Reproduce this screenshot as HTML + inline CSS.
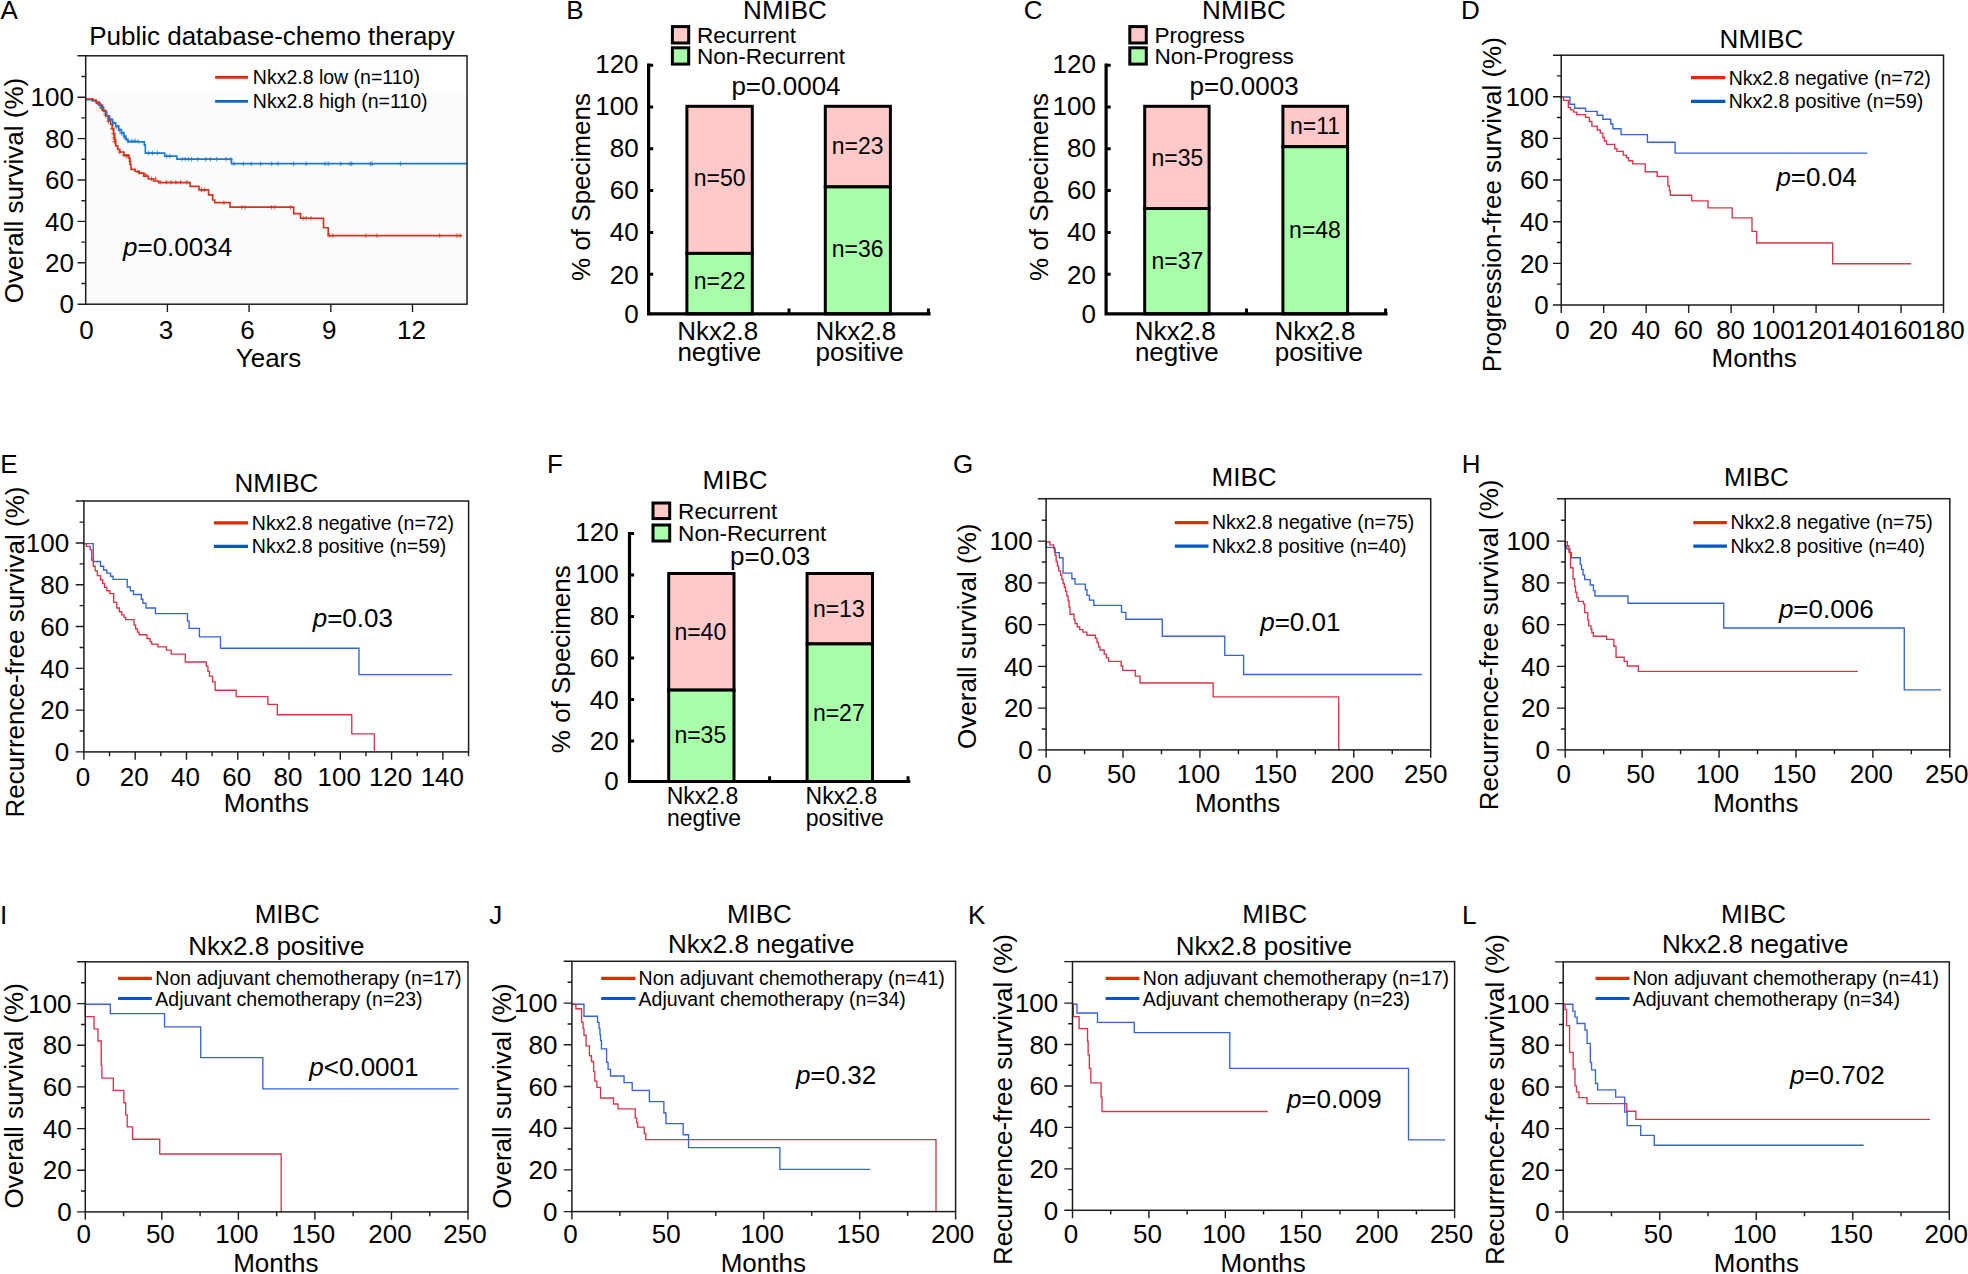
<!DOCTYPE html>
<html><head><meta charset="utf-8"><title>Figure</title>
<style>
html,body{margin:0;padding:0;background:#fff;}
svg{display:block;font-family:'Liberation Sans', sans-serif;}
</style></head><body>
<svg width="1968" height="1274" viewBox="0 0 1968 1274">
<rect width="1968" height="1274" fill="#fff"/>
<rect x="85.70" y="92.20" width="381.30" height="212.00" fill="#fbfcfe"/>
<path d="M85.51 99.59L92.24 99.59L92.24 101.02L96.33 101.02L96.33 103.47L100.41 103.47L100.41 107.14L103.47 107.14L103.47 111.22L106.53 111.22L106.53 115.71L109.59 115.71L109.59 119.39L112.65 119.39L112.65 122.86L115.71 122.86L115.71 125.92L118.78 125.92L118.78 129.59L121.43 129.59L121.43 132.65L123.88 132.65L123.88 136.12L125.92 136.12L125.92 139.39L127.96 139.39L127.96 141.84L139.18 141.84L139.18 141.84L144.29 141.84L144.29 144.90L145.31 144.90L145.31 153.06L164.69 153.06L164.69 156.12L176.94 156.12L176.94 159.18L231.43 159.18L231.43 163.67L467.00 163.67" fill="none" stroke="#1f7acb" stroke-width="1.65" stroke-linejoin="miter"/>
<path d="M85.51 98.98L93.27 98.98L93.27 100.00L96.33 100.00L96.33 102.04L99.39 102.04L99.39 105.10L102.45 105.10L102.45 110.20L105.51 110.20L105.51 115.71L108.16 115.71L108.16 120.41L110.61 120.41L110.61 124.49L112.24 124.49L112.24 128.57L113.67 128.57L113.67 133.67L114.69 133.67L114.69 139.80L115.71 139.80L115.71 145.92L117.76 145.92L117.76 149.39L119.80 149.39L119.80 152.04L123.88 152.04L123.88 155.10L128.98 155.10L128.98 158.16L130.00 158.16L130.00 164.29L131.02 164.29L131.02 169.39L135.10 169.39L135.10 171.43L139.18 171.43L139.18 173.06L143.67 173.06L143.67 176.12L148.37 176.12L148.37 178.98L153.47 178.98L153.47 181.02L158.57 181.02L158.57 182.65L190.20 182.65L190.20 186.33L198.98 186.33L198.98 189.80L208.57 189.80L208.57 194.90L212.65 194.90L212.65 200.00L214.69 200.00L214.69 202.65L230.00 202.65L230.00 207.14L293.66 207.14L293.66 213.57L300.57 213.57L300.57 218.28L323.49 218.28L323.49 227.70L328.20 227.70L328.20 235.55L461.68 235.55" fill="none" stroke="#d8301a" stroke-width="1.65" stroke-linejoin="miter"/>
<path d="M233.98 166.10 v-4.6 M231.78 163.80 h4.4M243.40 166.10 v-4.6 M241.20 163.80 h4.4M251.26 166.10 v-4.6 M249.06 163.80 h4.4M260.68 166.10 v-4.6 M258.48 163.80 h4.4M271.67 166.10 v-4.6 M269.47 163.80 h4.4M277.95 166.10 v-4.6 M275.75 163.80 h4.4M293.66 166.10 v-4.6 M291.46 163.80 h4.4M306.22 166.10 v-4.6 M304.02 163.80 h4.4M325.06 166.10 v-4.6 M322.86 163.80 h4.4M328.20 166.10 v-4.6 M326.00 163.80 h4.4M340.77 166.10 v-4.6 M338.57 163.80 h4.4M350.19 166.10 v-4.6 M347.99 163.80 h4.4M351.76 166.10 v-4.6 M349.56 163.80 h4.4M370.60 166.10 v-4.6 M368.40 163.80 h4.4M372.17 166.10 v-4.6 M369.97 163.80 h4.4M400.44 166.10 v-4.6 M398.24 163.80 h4.4M182.16 161.50 v-4.6 M179.96 159.20 h4.4M185.30 161.50 v-4.6 M183.10 159.20 h4.4M188.44 161.50 v-4.6 M186.24 159.20 h4.4M191.58 161.50 v-4.6 M189.38 159.20 h4.4M197.86 161.50 v-4.6 M195.66 159.20 h4.4M205.72 161.50 v-4.6 M203.52 159.20 h4.4M210.43 161.50 v-4.6 M208.23 159.20 h4.4M216.71 161.50 v-4.6 M214.51 159.20 h4.4M226.13 161.50 v-4.6 M223.93 159.20 h4.4M230.84 161.50 v-4.6 M228.64 159.20 h4.4M99.39 106.38 v-4.6 M97.19 104.08 h4.4M102.45 110.46 v-4.6 M100.25 108.16 h4.4M105.51 115.57 v-4.6 M103.31 113.27 h4.4M108.57 120.67 v-4.6 M106.37 118.37 h4.4M110.61 122.71 v-4.6 M108.41 120.41 h4.4M113.67 125.77 v-4.6 M111.47 123.47 h4.4M116.73 129.44 v-4.6 M114.53 127.14 h4.4M119.80 132.91 v-4.6 M117.60 130.61 h4.4M121.84 135.97 v-4.6 M119.64 133.67 h4.4M124.90 140.06 v-4.6 M122.70 137.76 h4.4M127.96 143.12 v-4.6 M125.76 140.82 h4.4M132.04 143.12 v-4.6 M129.84 140.82 h4.4M135.10 143.12 v-4.6 M132.90 140.82 h4.4M138.16 143.73 v-4.6 M135.96 141.43 h4.4M148.37 155.36 v-4.6 M146.17 153.06 h4.4M152.45 155.36 v-4.6 M150.25 153.06 h4.4M157.55 155.36 v-4.6 M155.35 153.06 h4.4M166.73 158.42 v-4.6 M164.53 156.12 h4.4M169.80 158.42 v-4.6 M167.60 156.12 h4.4" fill="none" stroke="#1f7acb" stroke-width="0.8"/>
<path d="M160.18 184.50 v-4.6 M157.98 182.20 h4.4M166.46 184.50 v-4.6 M164.26 182.20 h4.4M171.17 184.50 v-4.6 M168.97 182.20 h4.4M175.88 184.50 v-4.6 M173.68 182.20 h4.4M180.59 184.50 v-4.6 M178.39 182.20 h4.4M186.87 184.50 v-4.6 M184.67 182.20 h4.4M241.83 209.60 v-4.6 M239.63 207.30 h4.4M244.97 209.60 v-4.6 M242.77 207.30 h4.4M271.67 209.60 v-4.6 M269.47 207.30 h4.4M274.81 209.60 v-4.6 M272.61 207.30 h4.4M290.52 209.60 v-4.6 M288.32 207.30 h4.4M303.08 220.60 v-4.6 M300.88 218.30 h4.4M306.22 220.60 v-4.6 M304.02 218.30 h4.4M310.93 220.60 v-4.6 M308.73 218.30 h4.4M329.77 237.90 v-4.6 M327.57 235.60 h4.4M332.91 237.90 v-4.6 M330.71 235.60 h4.4M365.89 237.90 v-4.6 M363.69 235.60 h4.4M376.88 237.90 v-4.6 M374.68 235.60 h4.4M439.70 237.90 v-4.6 M437.50 235.60 h4.4M456.97 237.90 v-4.6 M454.77 235.60 h4.4M460.11 237.90 v-4.6 M457.91 235.60 h4.4M98.37 105.77 v-4.6 M96.17 103.47 h4.4M101.43 110.46 v-4.6 M99.23 108.16 h4.4M105.51 117.61 v-4.6 M103.31 115.31 h4.4M108.57 123.73 v-4.6 M106.37 121.43 h4.4M112.24 130.87 v-4.6 M110.04 128.57 h4.4M113.27 135.97 v-4.6 M111.07 133.67 h4.4M113.67 140.06 v-4.6 M111.47 137.76 h4.4M114.29 144.14 v-4.6 M112.09 141.84 h4.4M119.80 154.34 v-4.6 M117.60 152.04 h4.4M123.88 157.40 v-4.6 M121.68 155.10 h4.4M126.94 158.83 v-4.6 M124.74 156.53 h4.4M130.00 163.52 v-4.6 M127.80 161.22 h4.4M139.18 174.75 v-4.6 M136.98 172.45 h4.4M145.31 176.79 v-4.6 M143.11 174.49 h4.4M151.43 181.28 v-4.6 M149.23 178.98 h4.4M155.51 181.28 v-4.6 M153.31 178.98 h4.4M201.43 192.10 v-4.6 M199.23 189.80 h4.4M204.49 192.10 v-4.6 M202.29 189.80 h4.4M223.88 204.95 v-4.6 M221.68 202.65 h4.4" fill="none" stroke="#d2361c" stroke-width="0.8"/>
<rect x="85.70" y="55.80" width="381.30" height="248.40" fill="none" stroke="#1c1c1c" stroke-width="1.5"/>
<path d="M85.70 304.20 h-8.20M85.70 283.50 h-4.30M85.70 262.80 h-8.20M85.70 242.10 h-4.30M85.70 221.40 h-8.20M85.70 200.70 h-4.30M85.70 180.00 h-8.20M85.70 159.30 h-4.30M85.70 138.60 h-8.20M85.70 117.90 h-4.30M85.70 97.20 h-8.20M85.70 76.50 h-4.30M85.70 55.80 h-8.20M167.40 304.20 v7.90M249.10 304.20 v7.90M330.80 304.20 v7.90M412.50 304.20 v7.90" fill="none" stroke="#1c1c1c" stroke-width="1.4"/>
<text x="73.90" y="313.40" font-size="26.0" text-anchor="end" fill="#000">0</text>
<text x="73.90" y="272.00" font-size="26.0" text-anchor="end" fill="#000">20</text>
<text x="73.90" y="230.60" font-size="26.0" text-anchor="end" fill="#000">40</text>
<text x="73.90" y="189.20" font-size="26.0" text-anchor="end" fill="#000">60</text>
<text x="73.90" y="147.80" font-size="26.0" text-anchor="end" fill="#000">80</text>
<text x="73.90" y="106.40" font-size="26.0" text-anchor="end" fill="#000">100</text>
<text x="86.50" y="339.00" font-size="26.0" text-anchor="middle" fill="#000">0</text>
<text x="165.90" y="339.00" font-size="26.0" text-anchor="middle" fill="#000">3</text>
<text x="247.60" y="339.00" font-size="26.0" text-anchor="middle" fill="#000">6</text>
<text x="329.30" y="339.00" font-size="26.0" text-anchor="middle" fill="#000">9</text>
<text x="411.50" y="339.00" font-size="26.0" text-anchor="middle" fill="#000">12</text>
<text x="0.50" y="18.90" font-size="26.0" text-anchor="start" fill="#000">A</text>
<text x="272.00" y="45.20" font-size="26.0" text-anchor="middle" fill="#000">Public database-chemo therapy</text>
<text x="268.50" y="366.90" font-size="26.0" text-anchor="middle" fill="#000">Years</text>
<text transform="translate(23.40 190.50) rotate(-90)" font-size="26.0" text-anchor="middle">Overall survival (%)</text>
<path d="M215.10 77.30 H248.10" stroke="#cc3311" stroke-width="2.7"/>
<text x="252.80" y="84.40" font-size="19.5" text-anchor="start" fill="#000">Nkx2.8 low (n=110)</text>
<path d="M215.10 101.30 H248.10" stroke="#1166cc" stroke-width="2.7"/>
<text x="252.80" y="108.00" font-size="19.5" text-anchor="start" fill="#000">Nkx2.8 high (n=110)</text>
<text x="123.00" y="255.80" font-size="26.0"><tspan font-style="italic">p</tspan>=0.0034</text>
<path d="M1561.10 96.99L1569.89 96.99L1569.89 104.21L1574.60 104.21L1574.60 108.29L1585.59 108.29L1585.59 111.43L1597.21 111.43L1597.21 115.20L1602.86 115.20L1602.86 119.28L1610.71 119.28L1610.71 123.99L1612.90 123.99L1612.90 128.70L1621.07 128.70L1621.07 134.67L1647.44 134.67L1647.44 142.20L1675.07 142.20L1675.07 153.19L1867.22 153.19" fill="none" stroke="#3364d9" stroke-width="1.35" stroke-linejoin="miter"/>
<path d="M1561.10 96.99L1563.61 96.99L1563.61 100.44L1568.32 100.44L1568.32 107.35L1570.52 107.35L1570.52 109.86L1573.66 109.86L1573.66 112.06L1576.80 112.06L1576.80 114.57L1585.59 114.57L1585.59 117.40L1589.36 117.40L1589.36 121.48L1591.87 121.48L1591.87 126.19L1597.21 126.19L1597.21 129.96L1600.35 129.96L1600.35 133.10L1602.86 133.10L1602.86 137.49L1604.43 137.49L1604.43 140.95L1606.62 140.95L1606.62 144.40L1614.79 144.40L1614.79 148.79L1616.99 148.79L1616.99 151.31L1623.27 151.31L1623.27 155.07L1626.41 155.07L1626.41 157.59L1628.60 157.59L1628.60 160.73L1632.68 160.73L1632.68 163.87L1645.24 163.87L1645.24 171.71L1657.17 171.71L1657.17 176.42L1667.85 176.42L1667.85 185.84L1669.42 185.84L1669.42 190.55L1670.36 190.55L1670.36 195.26L1691.71 195.26L1691.71 200.91L1708.04 200.91L1708.04 207.82L1732.21 207.82L1732.21 217.87L1751.99 217.87L1751.99 231.37L1756.70 231.37L1756.70 242.99L1832.68 242.99L1832.68 263.71L1911.18 263.71" fill="none" stroke="#d9344a" stroke-width="1.35" stroke-linejoin="miter"/>
<rect x="1561.20" y="55.20" width="382.30" height="249.80" fill="none" stroke="#1c1c1c" stroke-width="1.5"/>
<path d="M1561.20 305.00 h-8.20M1561.20 284.17 h-4.30M1561.20 263.34 h-8.20M1561.20 242.51 h-4.30M1561.20 221.68 h-8.20M1561.20 200.85 h-4.30M1561.20 180.02 h-8.20M1561.20 159.19 h-4.30M1561.20 138.36 h-8.20M1561.20 117.53 h-4.30M1561.20 96.70 h-8.20M1561.20 75.87 h-4.30M1561.20 55.20 h-8.20M1561.20 305.00 v7.90M1603.68 305.00 v7.90M1646.16 305.00 v7.90M1688.64 305.00 v7.90M1731.12 305.00 v7.90M1773.60 305.00 v7.90M1816.08 305.00 v7.90M1858.56 305.00 v7.90M1901.04 305.00 v7.90M1943.52 305.00 v7.90" fill="none" stroke="#1c1c1c" stroke-width="1.4"/>
<text x="1548.80" y="314.20" font-size="26.0" text-anchor="end" fill="#000">0</text>
<text x="1548.80" y="272.54" font-size="26.0" text-anchor="end" fill="#000">20</text>
<text x="1548.80" y="230.88" font-size="26.0" text-anchor="end" fill="#000">40</text>
<text x="1548.80" y="189.22" font-size="26.0" text-anchor="end" fill="#000">60</text>
<text x="1548.80" y="147.56" font-size="26.0" text-anchor="end" fill="#000">80</text>
<text x="1548.80" y="105.90" font-size="26.0" text-anchor="end" fill="#000">100</text>
<text x="1562.40" y="339.00" font-size="26.0" text-anchor="middle" fill="#000">0</text>
<text x="1603.18" y="339.00" font-size="26.0" text-anchor="middle" fill="#000">20</text>
<text x="1645.66" y="339.00" font-size="26.0" text-anchor="middle" fill="#000">40</text>
<text x="1688.14" y="339.00" font-size="26.0" text-anchor="middle" fill="#000">60</text>
<text x="1730.62" y="339.00" font-size="26.0" text-anchor="middle" fill="#000">80</text>
<text x="1773.10" y="339.00" font-size="26.0" text-anchor="middle" fill="#000">100</text>
<text x="1815.58" y="339.00" font-size="26.0" text-anchor="middle" fill="#000">120</text>
<text x="1858.06" y="339.00" font-size="26.0" text-anchor="middle" fill="#000">140</text>
<text x="1900.54" y="339.00" font-size="26.0" text-anchor="middle" fill="#000">160</text>
<text x="1943.02" y="339.00" font-size="26.0" text-anchor="middle" fill="#000">180</text>
<text x="1461.00" y="18.90" font-size="26.0" text-anchor="start" fill="#000">D</text>
<text x="1761.50" y="47.70" font-size="26.0" text-anchor="middle" fill="#000">NMIBC</text>
<text x="1754.20" y="366.80" font-size="26.0" text-anchor="middle" fill="#000">Months</text>
<text transform="translate(1500.80 204.70) rotate(-90)" font-size="26.0" text-anchor="middle">Progression-free survival (%)</text>
<path d="M1691.00 77.70 H1725.40" stroke="#e02a00" stroke-width="3.2"/>
<text x="1728.70" y="84.50" font-size="19.5" text-anchor="start" fill="#000">Nkx2.8 negative (n=72)</text>
<path d="M1691.00 101.30 H1725.40" stroke="#0058c8" stroke-width="3.2"/>
<text x="1728.70" y="108.30" font-size="19.5" text-anchor="start" fill="#000">Nkx2.8 positive (n=59)</text>
<text x="1776.40" y="186.00" font-size="26.0"><tspan font-style="italic">p</tspan>=0.04</text>
<path d="M83.86 543.62L93.28 543.62L93.28 561.52L100.50 561.52L100.50 566.23L103.64 566.23L103.64 570.00L106.78 570.00L106.78 573.14L110.55 573.14L110.55 576.28L113.07 576.28L113.07 579.42L127.20 579.42L127.20 586.96L130.34 586.96L130.34 590.73L133.48 590.73L133.48 594.49L141.33 594.49L141.33 599.21L142.90 599.21L142.90 603.29L146.04 603.29L146.04 608.00L155.46 608.00L155.46 613.65L187.50 613.65L187.50 621.19L189.07 621.19L189.07 628.41L199.43 628.41L199.43 636.89L220.48 636.89L220.48 648.20L358.98 648.20L358.98 674.58L452.26 674.58" fill="none" stroke="#3364d9" stroke-width="1.35" stroke-linejoin="miter"/>
<path d="M83.86 543.62L86.37 543.62L86.37 546.44L90.14 546.44L90.14 549.90L91.71 549.90L91.71 559.95L93.28 559.95L93.28 566.23L95.16 566.23L95.16 570.94L97.36 570.94L97.36 575.65L100.50 575.65L100.50 579.73L102.70 579.73L102.70 583.50L104.59 583.50L104.59 587.27L106.78 587.27L106.78 590.73L109.92 590.73L109.92 593.55L113.69 593.55L113.69 602.35L116.83 602.35L116.83 608.00L119.35 608.00L119.35 611.77L121.86 611.77L121.86 614.91L124.06 614.91L124.06 617.42L125.63 617.42L125.63 619.62L134.11 619.62L134.11 625.27L135.68 625.27L135.68 629.04L137.56 629.04L137.56 632.18L139.13 632.18L139.13 634.70L146.98 634.70L146.98 638.46L150.13 638.46L150.13 641.61L151.70 641.61L151.70 644.12L157.98 644.12L157.98 646.94L166.46 646.94L166.46 650.08L171.17 650.08L171.17 654.17L185.30 654.17L185.30 662.02L206.34 662.02L206.34 666.10L207.91 666.10L207.91 671.44L209.48 671.44L209.48 676.15L212.63 676.15L212.63 681.81L215.14 681.81L215.14 690.29L236.18 690.29L236.18 696.57L267.90 696.57L267.90 704.42L277.32 704.42L277.32 714.78L351.76 714.78L351.76 733.94L374.37 733.94L374.37 752.47" fill="none" stroke="#d9344a" stroke-width="1.35" stroke-linejoin="miter"/>
<rect x="83.90" y="501.00" width="384.70" height="250.90" fill="none" stroke="#1c1c1c" stroke-width="1.5"/>
<path d="M83.90 751.90 h-8.20M83.90 731.01 h-4.30M83.90 710.12 h-8.20M83.90 689.23 h-4.30M83.90 668.34 h-8.20M83.90 647.45 h-4.30M83.90 626.56 h-8.20M83.90 605.67 h-4.30M83.90 584.78 h-8.20M83.90 563.89 h-4.30M83.90 543.00 h-8.20M83.90 522.11 h-4.30M83.90 501.00 h-8.20M83.90 751.90 v7.90M135.18 751.90 v7.90M186.46 751.90 v7.90M237.74 751.90 v7.90M289.02 751.90 v7.90M340.30 751.90 v7.90M391.58 751.90 v7.90M442.86 751.90 v7.90M109.54 751.90 v4.30M160.82 751.90 v4.30M212.10 751.90 v4.30M263.38 751.90 v4.30M314.66 751.90 v4.30M365.94 751.90 v4.30M417.22 751.90 v4.30M468.50 751.90 v4.30" fill="none" stroke="#1c1c1c" stroke-width="1.4"/>
<text x="69.20" y="761.10" font-size="26.0" text-anchor="end" fill="#000">0</text>
<text x="69.20" y="719.32" font-size="26.0" text-anchor="end" fill="#000">20</text>
<text x="69.20" y="677.54" font-size="26.0" text-anchor="end" fill="#000">40</text>
<text x="69.20" y="635.76" font-size="26.0" text-anchor="end" fill="#000">60</text>
<text x="69.20" y="593.98" font-size="26.0" text-anchor="end" fill="#000">80</text>
<text x="69.20" y="552.20" font-size="26.0" text-anchor="end" fill="#000">100</text>
<text x="82.90" y="786.00" font-size="26.0" text-anchor="middle" fill="#000">0</text>
<text x="134.18" y="786.00" font-size="26.0" text-anchor="middle" fill="#000">20</text>
<text x="185.46" y="786.00" font-size="26.0" text-anchor="middle" fill="#000">40</text>
<text x="236.74" y="786.00" font-size="26.0" text-anchor="middle" fill="#000">60</text>
<text x="288.02" y="786.00" font-size="26.0" text-anchor="middle" fill="#000">80</text>
<text x="339.30" y="786.00" font-size="26.0" text-anchor="middle" fill="#000">100</text>
<text x="390.58" y="786.00" font-size="26.0" text-anchor="middle" fill="#000">120</text>
<text x="442.36" y="786.00" font-size="26.0" text-anchor="middle" fill="#000">140</text>
<text x="0.30" y="473.10" font-size="26.0" text-anchor="start" fill="#000">E</text>
<text x="276.40" y="491.80" font-size="26.0" text-anchor="middle" fill="#000">NMIBC</text>
<text x="266.30" y="811.80" font-size="26.0" text-anchor="middle" fill="#000">Months</text>
<text transform="translate(23.90 652.00) rotate(-90)" font-size="26.0" text-anchor="middle">Recurrence-free survival (%)</text>
<path d="M213.90 522.90 H248.10" stroke="#e02a00" stroke-width="3.2"/>
<text x="251.80" y="529.50" font-size="19.5" text-anchor="start" fill="#000">Nkx2.8 negative (n=72)</text>
<path d="M213.90 546.40 H248.10" stroke="#0058c8" stroke-width="3.2"/>
<text x="251.80" y="553.00" font-size="19.5" text-anchor="start" fill="#000">Nkx2.8 positive (n=59)</text>
<text x="312.70" y="626.70" font-size="26.0"><tspan font-style="italic">p</tspan>=0.03</text>
<path d="M1046.12 541.70L1046.12 547.35L1054.60 547.35L1054.60 552.69L1059.31 552.69L1059.31 557.71L1063.08 557.71L1063.08 573.10L1071.87 573.10L1071.87 578.75L1075.01 578.75L1075.01 584.09L1085.37 584.09L1085.37 589.74L1086.94 589.74L1086.94 595.39L1089.45 595.39L1089.45 600.10L1093.85 600.10L1093.85 605.44L1121.48 605.44L1121.48 612.34L1125.87 612.34L1125.87 619.25L1162.29 619.25L1162.29 636.20L1224.77 636.20L1224.77 655.36L1243.61 655.36L1243.61 674.51L1421.95 674.51" fill="none" stroke="#3364d9" stroke-width="1.35" stroke-linejoin="miter"/>
<path d="M1046.12 541.70L1049.89 541.70L1049.89 544.84L1053.66 544.84L1053.66 548.92L1055.23 548.92L1055.23 555.20L1056.17 555.20L1056.17 561.48L1057.43 561.48L1057.43 566.19L1058.68 566.19L1058.68 570.90L1060.57 570.90L1060.57 574.98L1061.82 574.98L1061.82 579.38L1063.08 579.38L1063.08 583.46L1064.33 583.46L1064.33 587.22L1065.59 587.22L1065.59 591.31L1066.84 591.31L1066.84 596.02L1068.10 596.02L1068.10 600.73L1069.04 600.73L1069.04 607.01L1069.98 607.01L1069.98 614.23L1074.07 614.23L1074.07 619.56L1075.01 619.56L1075.01 623.65L1077.21 623.65L1077.21 626.79L1079.72 626.79L1079.72 629.61L1082.86 629.61L1082.86 632.12L1086.94 632.12L1086.94 635.26L1095.42 635.26L1095.42 638.40L1096.99 638.40L1096.99 642.48L1098.56 642.48L1098.56 646.88L1100.13 646.88L1100.13 650.02L1104.21 650.02L1104.21 654.10L1106.41 654.10L1106.41 657.87L1108.60 657.87L1108.60 661.32L1121.16 661.32L1121.16 666.03L1122.73 666.03L1122.73 670.43L1135.29 670.43L1135.29 676.08L1140.00 676.08L1140.00 682.99L1213.16 682.99L1213.16 696.80L1338.74 696.80L1338.74 750.49" fill="none" stroke="#d9344a" stroke-width="1.35" stroke-linejoin="miter"/>
<rect x="1046.10" y="498.70" width="384.60" height="251.20" fill="none" stroke="#1c1c1c" stroke-width="1.5"/>
<path d="M1046.10 749.90 h-8.20M1046.10 729.02 h-4.30M1046.10 708.14 h-8.20M1046.10 687.26 h-4.30M1046.10 666.38 h-8.20M1046.10 645.50 h-4.30M1046.10 624.62 h-8.20M1046.10 603.74 h-4.30M1046.10 582.86 h-8.20M1046.10 561.98 h-4.30M1046.10 541.10 h-8.20M1046.10 520.22 h-4.30M1046.10 498.70 h-8.20M1046.10 749.90 v7.90M1123.02 749.90 v7.90M1199.94 749.90 v7.90M1276.86 749.90 v7.90M1353.78 749.90 v7.90M1430.70 749.90 v7.90M1084.56 749.90 v4.30M1161.48 749.90 v4.30M1238.40 749.90 v4.30M1315.32 749.90 v4.30M1392.24 749.90 v4.30" fill="none" stroke="#1c1c1c" stroke-width="1.4"/>
<text x="1032.80" y="759.10" font-size="26.0" text-anchor="end" fill="#000">0</text>
<text x="1032.80" y="717.34" font-size="26.0" text-anchor="end" fill="#000">20</text>
<text x="1032.80" y="675.58" font-size="26.0" text-anchor="end" fill="#000">40</text>
<text x="1032.80" y="633.82" font-size="26.0" text-anchor="end" fill="#000">60</text>
<text x="1032.80" y="592.06" font-size="26.0" text-anchor="end" fill="#000">80</text>
<text x="1032.80" y="550.30" font-size="26.0" text-anchor="end" fill="#000">100</text>
<text x="1044.60" y="782.70" font-size="26.0" text-anchor="middle" fill="#000">0</text>
<text x="1121.52" y="782.70" font-size="26.0" text-anchor="middle" fill="#000">50</text>
<text x="1198.44" y="782.70" font-size="26.0" text-anchor="middle" fill="#000">100</text>
<text x="1275.36" y="782.70" font-size="26.0" text-anchor="middle" fill="#000">150</text>
<text x="1352.28" y="782.70" font-size="26.0" text-anchor="middle" fill="#000">200</text>
<text x="1425.70" y="782.70" font-size="26.0" text-anchor="middle" fill="#000">250</text>
<text x="952.90" y="473.20" font-size="26.0" text-anchor="start" fill="#000">G</text>
<text x="1244.00" y="485.50" font-size="26.0" text-anchor="middle" fill="#000">MIBC</text>
<text x="1237.60" y="811.70" font-size="26.0" text-anchor="middle" fill="#000">Months</text>
<text transform="translate(976.00 636.20) rotate(-90)" font-size="26.0" text-anchor="middle">Overall survival (%)</text>
<path d="M1174.80 522.60 H1208.50" stroke="#e02a00" stroke-width="3.2"/>
<text x="1212.00" y="529.30" font-size="19.5" text-anchor="start" fill="#000">Nkx2.8 negative (n=75)</text>
<path d="M1174.80 546.10 H1208.50" stroke="#0058c8" stroke-width="3.2"/>
<text x="1212.00" y="552.80" font-size="19.5" text-anchor="start" fill="#000">Nkx2.8 positive (n=40)</text>
<text x="1260.20" y="630.60" font-size="26.0"><tspan font-style="italic">p</tspan>=0.01</text>
<path d="M1565.18 541.70L1565.18 545.78L1566.75 545.78L1566.75 548.92L1569.89 548.92L1569.89 552.69L1571.46 552.69L1571.46 557.71L1580.25 557.71L1580.25 564.62L1581.51 564.62L1581.51 569.33L1583.08 569.33L1583.08 574.98L1584.65 574.98L1584.65 579.69L1590.30 579.69L1590.30 585.03L1593.44 585.03L1593.44 590.68L1595.01 590.68L1595.01 596.02L1627.97 596.02L1627.97 603.24L1723.74 603.24L1723.74 628.04L1904.27 628.04L1904.27 689.89L1941.00 689.89" fill="none" stroke="#3364d9" stroke-width="1.35" stroke-linejoin="miter"/>
<path d="M1565.18 541.70L1567.38 541.70L1567.38 545.78L1568.95 545.78L1568.95 552.06L1570.52 552.06L1570.52 567.76L1573.03 567.76L1573.03 578.75L1574.60 578.75L1574.60 586.60L1575.54 586.60L1575.54 592.25L1576.80 592.25L1576.80 597.59L1578.37 597.59L1578.37 601.35L1583.39 601.35L1583.39 603.87L1584.65 603.87L1584.65 612.66L1587.79 612.66L1587.79 620.19L1588.73 620.19L1588.73 625.84L1590.93 625.84L1590.93 628.98L1591.87 628.98L1591.87 632.75L1593.44 632.75L1593.44 636.20L1606.62 636.20L1606.62 639.34L1613.85 639.34L1613.85 646.25L1616.04 646.25L1616.04 657.24L1624.21 657.24L1624.21 661.32L1627.35 661.32L1627.35 666.03L1638.34 666.03L1638.34 671.37L1857.80 671.37" fill="none" stroke="#d9344a" stroke-width="1.35" stroke-linejoin="miter"/>
<rect x="1565.20" y="498.70" width="384.60" height="251.20" fill="none" stroke="#1c1c1c" stroke-width="1.5"/>
<path d="M1565.20 749.90 h-8.20M1565.20 729.02 h-4.30M1565.20 708.14 h-8.20M1565.20 687.26 h-4.30M1565.20 666.38 h-8.20M1565.20 645.50 h-4.30M1565.20 624.62 h-8.20M1565.20 603.74 h-4.30M1565.20 582.86 h-8.20M1565.20 561.98 h-4.30M1565.20 541.10 h-8.20M1565.20 520.22 h-4.30M1565.20 498.70 h-8.20M1565.20 749.90 v7.90M1642.12 749.90 v7.90M1719.04 749.90 v7.90M1795.96 749.90 v7.90M1872.88 749.90 v7.90M1949.80 749.90 v7.90M1603.66 749.90 v4.30M1680.58 749.90 v4.30M1757.50 749.90 v4.30M1834.42 749.90 v4.30M1911.34 749.90 v4.30" fill="none" stroke="#1c1c1c" stroke-width="1.4"/>
<text x="1550.00" y="759.10" font-size="26.0" text-anchor="end" fill="#000">0</text>
<text x="1550.00" y="717.34" font-size="26.0" text-anchor="end" fill="#000">20</text>
<text x="1550.00" y="675.58" font-size="26.0" text-anchor="end" fill="#000">40</text>
<text x="1550.00" y="633.82" font-size="26.0" text-anchor="end" fill="#000">60</text>
<text x="1550.00" y="592.06" font-size="26.0" text-anchor="end" fill="#000">80</text>
<text x="1550.00" y="550.30" font-size="26.0" text-anchor="end" fill="#000">100</text>
<text x="1563.70" y="782.70" font-size="26.0" text-anchor="middle" fill="#000">0</text>
<text x="1640.62" y="782.70" font-size="26.0" text-anchor="middle" fill="#000">50</text>
<text x="1717.54" y="782.70" font-size="26.0" text-anchor="middle" fill="#000">100</text>
<text x="1794.46" y="782.70" font-size="26.0" text-anchor="middle" fill="#000">150</text>
<text x="1871.38" y="782.70" font-size="26.0" text-anchor="middle" fill="#000">200</text>
<text x="1946.80" y="782.70" font-size="26.0" text-anchor="middle" fill="#000">250</text>
<text x="1461.80" y="473.20" font-size="26.0" text-anchor="start" fill="#000">H</text>
<text x="1756.40" y="485.50" font-size="26.0" text-anchor="middle" fill="#000">MIBC</text>
<text x="1755.80" y="811.70" font-size="26.0" text-anchor="middle" fill="#000">Months</text>
<text transform="translate(1497.70 644.90) rotate(-90)" font-size="26.0" text-anchor="middle">Recurrence-free survival (%)</text>
<path d="M1693.30 522.60 H1726.90" stroke="#e02a00" stroke-width="3.2"/>
<text x="1730.50" y="529.30" font-size="19.5" text-anchor="start" fill="#000">Nkx2.8 negative (n=75)</text>
<path d="M1693.30 546.10 H1726.90" stroke="#0058c8" stroke-width="3.2"/>
<text x="1730.50" y="552.80" font-size="19.5" text-anchor="start" fill="#000">Nkx2.8 positive (n=40)</text>
<text x="1778.90" y="617.80" font-size="26.0"><tspan font-style="italic">p</tspan>=0.006</text>
<path d="M85.29 1004.22L110.31 1004.22L110.31 1013.57L164.56 1013.57L164.56 1026.83L200.72 1026.83L200.72 1057.57L262.81 1057.57L262.81 1088.91L458.71 1088.91" fill="none" stroke="#3364d9" stroke-width="1.35" stroke-linejoin="miter"/>
<path d="M85.29 1004.22L85.29 1016.58L94.03 1016.58L94.03 1028.94L97.95 1028.94L97.95 1040.99L101.27 1040.99L101.27 1065.40L101.87 1065.40L101.87 1078.06L113.32 1078.06L113.32 1090.42L123.87 1090.42L123.87 1102.78L125.68 1102.78L125.68 1114.83L127.19 1114.83L127.19 1126.89L132.61 1126.89L132.61 1139.24L159.73 1139.24L159.73 1154.01L281.19 1154.01L281.19 1212.18" fill="none" stroke="#d9344a" stroke-width="1.35" stroke-linejoin="miter"/>
<rect x="85.30" y="961.80" width="382.70" height="250.10" fill="none" stroke="#1c1c1c" stroke-width="1.5"/>
<path d="M85.30 1211.90 h-8.20M85.30 1191.07 h-4.30M85.30 1170.24 h-8.20M85.30 1149.41 h-4.30M85.30 1128.58 h-8.20M85.30 1107.75 h-4.30M85.30 1086.92 h-8.20M85.30 1066.09 h-4.30M85.30 1045.26 h-8.20M85.30 1024.43 h-4.30M85.30 1003.60 h-8.20M85.30 982.77 h-4.30M85.30 961.80 h-8.20M85.30 1211.90 v7.90M161.84 1211.90 v7.90M238.38 1211.90 v7.90M314.92 1211.90 v7.90M391.46 1211.90 v7.90M468.00 1211.90 v7.90M123.57 1211.90 v4.30M200.11 1211.90 v4.30M276.65 1211.90 v4.30M353.19 1211.90 v4.30M429.73 1211.90 v4.30" fill="none" stroke="#1c1c1c" stroke-width="1.4"/>
<text x="71.60" y="1221.10" font-size="26.0" text-anchor="end" fill="#000">0</text>
<text x="71.60" y="1179.44" font-size="26.0" text-anchor="end" fill="#000">20</text>
<text x="71.60" y="1137.78" font-size="26.0" text-anchor="end" fill="#000">40</text>
<text x="71.60" y="1096.12" font-size="26.0" text-anchor="end" fill="#000">60</text>
<text x="71.60" y="1054.46" font-size="26.0" text-anchor="end" fill="#000">80</text>
<text x="71.60" y="1012.80" font-size="26.0" text-anchor="end" fill="#000">100</text>
<text x="83.80" y="1243.30" font-size="26.0" text-anchor="middle" fill="#000">0</text>
<text x="160.34" y="1243.30" font-size="26.0" text-anchor="middle" fill="#000">50</text>
<text x="236.88" y="1243.30" font-size="26.0" text-anchor="middle" fill="#000">100</text>
<text x="313.42" y="1243.30" font-size="26.0" text-anchor="middle" fill="#000">150</text>
<text x="389.96" y="1243.30" font-size="26.0" text-anchor="middle" fill="#000">200</text>
<text x="465.00" y="1243.30" font-size="26.0" text-anchor="middle" fill="#000">250</text>
<text x="0.00" y="924.00" font-size="26.0" text-anchor="start" fill="#000">I</text>
<text x="287.20" y="923.40" font-size="26.0" text-anchor="middle" fill="#000">MIBC</text>
<text x="276.40" y="955.10" font-size="26.0" text-anchor="middle" fill="#000">Nkx2.8 positive</text>
<text x="275.80" y="1272.10" font-size="26.0" text-anchor="middle" fill="#000">Months</text>
<text transform="translate(22.80 1095.80) rotate(-90)" font-size="26.0" text-anchor="middle">Overall survival (%)</text>
<path d="M118.10 978.30 H151.90" stroke="#e02a00" stroke-width="3.2"/>
<text x="155.30" y="985.30" font-size="19.5" text-anchor="start" fill="#000">Non adjuvant chemotherapy (n=17)</text>
<path d="M118.10 998.50 H151.90" stroke="#0058c8" stroke-width="3.2"/>
<text x="155.30" y="1005.50" font-size="19.5" text-anchor="start" fill="#000">Adjuvant chemotherapy (n=23)</text>
<text x="309.30" y="1076.00" font-size="26.0"><tspan font-style="italic">p</tspan>&lt;0.0001</text>
<path d="M571.92 1004.22L583.98 1004.22L583.98 1016.28L597.54 1016.28L597.54 1022.31L599.05 1022.31L599.05 1028.63L599.95 1028.63L599.95 1034.66L600.55 1034.66L600.55 1040.69L601.46 1040.69L601.46 1048.83L606.58 1048.83L606.58 1062.39L608.09 1062.39L608.09 1069.32L610.50 1069.32L610.50 1075.95L624.06 1075.95L624.06 1082.58L632.20 1082.58L632.20 1090.42L649.38 1090.42L649.38 1101.57L663.85 1101.57L663.85 1113.02L665.96 1113.02L665.96 1123.57L683.13 1123.57L683.13 1134.72L688.56 1134.72L688.56 1147.68L779.88 1147.68L779.88 1169.38L870.30 1169.38" fill="none" stroke="#3364d9" stroke-width="1.35" stroke-linejoin="miter"/>
<path d="M571.92 1004.22L575.84 1004.22L575.84 1008.74L581.57 1008.74L581.57 1022.31L583.07 1022.31L583.07 1028.63L583.98 1028.63L583.98 1035.27L586.09 1035.27L586.09 1045.81L589.40 1045.81L589.40 1055.76L591.51 1055.76L591.51 1061.49L593.62 1061.49L593.62 1071.43L594.83 1071.43L594.83 1081.08L596.94 1081.08L596.94 1087.41L600.55 1087.41L600.55 1097.95L613.51 1097.95L613.51 1103.98L618.03 1103.98L618.03 1108.80L635.21 1108.80L635.21 1118.15L636.72 1118.15L636.72 1122.67L637.63 1122.67L637.63 1127.19L644.26 1127.19L644.26 1133.52L645.76 1133.52L645.76 1139.55L936.00 1139.55L936.00 1211.58" fill="none" stroke="#d9344a" stroke-width="1.35" stroke-linejoin="miter"/>
<rect x="571.90" y="961.30" width="383.70" height="250.30" fill="none" stroke="#1c1c1c" stroke-width="1.5"/>
<path d="M571.90 1211.60 h-8.20M571.90 1190.75 h-4.30M571.90 1169.90 h-8.20M571.90 1149.05 h-4.30M571.90 1128.20 h-8.20M571.90 1107.35 h-4.30M571.90 1086.50 h-8.20M571.90 1065.65 h-4.30M571.90 1044.80 h-8.20M571.90 1023.95 h-4.30M571.90 1003.10 h-8.20M571.90 982.25 h-4.30M571.90 961.30 h-8.20M571.90 1211.60 v7.90M667.83 1211.60 v7.90M763.76 1211.60 v7.90M859.69 1211.60 v7.90M955.62 1211.60 v7.90M619.87 1211.60 v4.30M715.79 1211.60 v4.30M811.73 1211.60 v4.30M907.65 1211.60 v4.30" fill="none" stroke="#1c1c1c" stroke-width="1.4"/>
<text x="557.50" y="1220.80" font-size="26.0" text-anchor="end" fill="#000">0</text>
<text x="557.50" y="1179.10" font-size="26.0" text-anchor="end" fill="#000">20</text>
<text x="557.50" y="1137.40" font-size="26.0" text-anchor="end" fill="#000">40</text>
<text x="557.50" y="1095.70" font-size="26.0" text-anchor="end" fill="#000">60</text>
<text x="557.50" y="1054.00" font-size="26.0" text-anchor="end" fill="#000">80</text>
<text x="557.50" y="1012.30" font-size="26.0" text-anchor="end" fill="#000">100</text>
<text x="570.40" y="1243.30" font-size="26.0" text-anchor="middle" fill="#000">0</text>
<text x="666.33" y="1243.30" font-size="26.0" text-anchor="middle" fill="#000">50</text>
<text x="762.26" y="1243.30" font-size="26.0" text-anchor="middle" fill="#000">100</text>
<text x="858.19" y="1243.30" font-size="26.0" text-anchor="middle" fill="#000">150</text>
<text x="952.62" y="1243.30" font-size="26.0" text-anchor="middle" fill="#000">200</text>
<text x="489.20" y="924.00" font-size="26.0" text-anchor="start" fill="#000">J</text>
<text x="759.40" y="923.40" font-size="26.0" text-anchor="middle" fill="#000">MIBC</text>
<text x="761.30" y="953.00" font-size="26.0" text-anchor="middle" fill="#000">Nkx2.8 negative</text>
<text x="763.30" y="1272.10" font-size="26.0" text-anchor="middle" fill="#000">Months</text>
<text transform="translate(510.60 1096.10) rotate(-90)" font-size="26.0" text-anchor="middle">Overall survival (%)</text>
<path d="M601.20 978.30 H635.50" stroke="#e02a00" stroke-width="3.2"/>
<text x="638.60" y="985.30" font-size="19.5" text-anchor="start" fill="#000">Non adjuvant chemotherapy (n=41)</text>
<path d="M601.20 998.50 H635.50" stroke="#0058c8" stroke-width="3.2"/>
<text x="638.60" y="1005.50" font-size="19.5" text-anchor="start" fill="#000">Adjuvant chemotherapy (n=34)</text>
<text x="795.90" y="1083.90" font-size="26.0"><tspan font-style="italic">p</tspan>=0.32</text>
<path d="M1072.47 1004.22L1076.99 1004.22L1076.99 1012.96L1097.49 1012.96L1097.49 1022.31L1134.26 1022.31L1134.26 1032.55L1229.80 1032.55L1229.80 1068.42L1408.52 1068.42L1408.52 1139.85L1445.29 1139.85" fill="none" stroke="#3364d9" stroke-width="1.35" stroke-linejoin="miter"/>
<path d="M1072.47 1004.22L1073.38 1004.22L1073.38 1016.58L1079.10 1016.58L1079.10 1028.63L1087.54 1028.63L1087.54 1041.29L1088.14 1041.29L1088.14 1054.86L1089.35 1054.86L1089.35 1068.42L1090.86 1068.42L1090.86 1082.88L1101.10 1082.88L1101.10 1097.05L1102.01 1097.05L1102.01 1111.52L1267.77 1111.52" fill="none" stroke="#d9344a" stroke-width="1.35" stroke-linejoin="miter"/>
<rect x="1072.50" y="961.60" width="382.10" height="248.70" fill="none" stroke="#1c1c1c" stroke-width="1.5"/>
<path d="M1072.50 1210.30 h-8.20M1072.50 1189.58 h-4.30M1072.50 1168.86 h-8.20M1072.50 1148.14 h-4.30M1072.50 1127.42 h-8.20M1072.50 1106.70 h-4.30M1072.50 1085.98 h-8.20M1072.50 1065.26 h-4.30M1072.50 1044.54 h-8.20M1072.50 1023.82 h-4.30M1072.50 1003.10 h-8.20M1072.50 982.38 h-4.30M1072.50 961.60 h-8.20M1072.50 1210.30 v7.90M1148.92 1210.30 v7.90M1225.34 1210.30 v7.90M1301.76 1210.30 v7.90M1378.18 1210.30 v7.90M1454.60 1210.30 v7.90M1110.71 1210.30 v4.30M1187.13 1210.30 v4.30M1263.55 1210.30 v4.30M1339.97 1210.30 v4.30M1416.39 1210.30 v4.30" fill="none" stroke="#1c1c1c" stroke-width="1.4"/>
<text x="1058.30" y="1219.50" font-size="26.0" text-anchor="end" fill="#000">0</text>
<text x="1058.30" y="1178.06" font-size="26.0" text-anchor="end" fill="#000">20</text>
<text x="1058.30" y="1136.62" font-size="26.0" text-anchor="end" fill="#000">40</text>
<text x="1058.30" y="1095.18" font-size="26.0" text-anchor="end" fill="#000">60</text>
<text x="1058.30" y="1053.74" font-size="26.0" text-anchor="end" fill="#000">80</text>
<text x="1058.30" y="1012.30" font-size="26.0" text-anchor="end" fill="#000">100</text>
<text x="1071.00" y="1243.30" font-size="26.0" text-anchor="middle" fill="#000">0</text>
<text x="1147.42" y="1243.30" font-size="26.0" text-anchor="middle" fill="#000">50</text>
<text x="1223.84" y="1243.30" font-size="26.0" text-anchor="middle" fill="#000">100</text>
<text x="1300.26" y="1243.30" font-size="26.0" text-anchor="middle" fill="#000">150</text>
<text x="1376.68" y="1243.30" font-size="26.0" text-anchor="middle" fill="#000">200</text>
<text x="1451.60" y="1243.30" font-size="26.0" text-anchor="middle" fill="#000">250</text>
<text x="968.00" y="924.00" font-size="26.0" text-anchor="start" fill="#000">K</text>
<text x="1274.70" y="923.40" font-size="26.0" text-anchor="middle" fill="#000">MIBC</text>
<text x="1263.80" y="955.10" font-size="26.0" text-anchor="middle" fill="#000">Nkx2.8 positive</text>
<text x="1263.20" y="1272.10" font-size="26.0" text-anchor="middle" fill="#000">Months</text>
<text transform="translate(1012.20 1099.50) rotate(-90)" font-size="26.0" text-anchor="middle">Recurrence-free survival (%)</text>
<path d="M1105.60 978.30 H1139.40" stroke="#e02a00" stroke-width="3.2"/>
<text x="1142.80" y="985.30" font-size="19.5" text-anchor="start" fill="#000">Non adjuvant chemotherapy (n=17)</text>
<path d="M1105.60 998.50 H1139.40" stroke="#0058c8" stroke-width="3.2"/>
<text x="1142.80" y="1005.50" font-size="19.5" text-anchor="start" fill="#000">Adjuvant chemotherapy (n=23)</text>
<text x="1286.90" y="1107.60" font-size="26.0"><tspan font-style="italic">p</tspan>=0.009</text>
<path d="M1563.24 1004.22L1572.88 1004.22L1572.88 1011.15L1574.99 1011.15L1574.99 1017.18L1577.10 1017.18L1577.10 1023.51L1584.94 1023.51L1584.94 1030.14L1587.05 1030.14L1587.05 1043.40L1590.36 1043.40L1590.36 1062.39L1591.57 1062.39L1591.57 1069.92L1595.49 1069.92L1595.49 1083.49L1597.60 1083.49L1597.60 1089.82L1615.68 1089.82L1615.68 1097.05L1624.72 1097.05L1624.72 1112.12L1627.13 1112.12L1627.13 1125.68L1640.69 1125.68L1640.69 1135.33L1654.26 1135.33L1654.26 1145.27L1863.72 1145.27" fill="none" stroke="#3364d9" stroke-width="1.35" stroke-linejoin="miter"/>
<path d="M1563.24 1004.22L1565.05 1004.22L1565.05 1009.65L1566.55 1009.65L1566.55 1025.62L1569.57 1025.62L1569.57 1052.44L1573.18 1052.44L1573.18 1069.02L1574.99 1069.02L1574.99 1085.90L1576.50 1085.90L1576.50 1091.93L1578.91 1091.93L1578.91 1097.65L1587.05 1097.65L1587.05 1103.68L1626.83 1103.68L1626.83 1111.21L1635.87 1111.21L1635.87 1119.35L1930.03 1119.35" fill="none" stroke="#d9344a" stroke-width="1.35" stroke-linejoin="miter"/>
<rect x="1563.20" y="961.90" width="386.10" height="250.10" fill="none" stroke="#1c1c1c" stroke-width="1.5"/>
<path d="M1563.20 1212.00 h-8.20M1563.20 1191.16 h-4.30M1563.20 1170.32 h-8.20M1563.20 1149.48 h-4.30M1563.20 1128.64 h-8.20M1563.20 1107.80 h-4.30M1563.20 1086.96 h-8.20M1563.20 1066.12 h-4.30M1563.20 1045.28 h-8.20M1563.20 1024.44 h-4.30M1563.20 1003.60 h-8.20M1563.20 982.76 h-4.30M1563.20 961.90 h-8.20M1563.20 1212.00 v7.90M1659.73 1212.00 v7.90M1756.26 1212.00 v7.90M1852.79 1212.00 v7.90M1949.32 1212.00 v7.90M1611.47 1212.00 v4.30M1708.00 1212.00 v4.30M1804.53 1212.00 v4.30M1901.06 1212.00 v4.30" fill="none" stroke="#1c1c1c" stroke-width="1.4"/>
<text x="1549.60" y="1221.20" font-size="26.0" text-anchor="end" fill="#000">0</text>
<text x="1549.60" y="1179.52" font-size="26.0" text-anchor="end" fill="#000">20</text>
<text x="1549.60" y="1137.84" font-size="26.0" text-anchor="end" fill="#000">40</text>
<text x="1549.60" y="1096.16" font-size="26.0" text-anchor="end" fill="#000">60</text>
<text x="1549.60" y="1054.48" font-size="26.0" text-anchor="end" fill="#000">80</text>
<text x="1549.60" y="1012.80" font-size="26.0" text-anchor="end" fill="#000">100</text>
<text x="1561.70" y="1243.30" font-size="26.0" text-anchor="middle" fill="#000">0</text>
<text x="1658.23" y="1243.30" font-size="26.0" text-anchor="middle" fill="#000">50</text>
<text x="1754.76" y="1243.30" font-size="26.0" text-anchor="middle" fill="#000">100</text>
<text x="1851.29" y="1243.30" font-size="26.0" text-anchor="middle" fill="#000">150</text>
<text x="1946.32" y="1243.30" font-size="26.0" text-anchor="middle" fill="#000">200</text>
<text x="1462.00" y="924.00" font-size="26.0" text-anchor="start" fill="#000">L</text>
<text x="1753.60" y="923.40" font-size="26.0" text-anchor="middle" fill="#000">MIBC</text>
<text x="1755.20" y="953.00" font-size="26.0" text-anchor="middle" fill="#000">Nkx2.8 negative</text>
<text x="1756.40" y="1272.10" font-size="26.0" text-anchor="middle" fill="#000">Months</text>
<text transform="translate(1504.20 1099.50) rotate(-90)" font-size="26.0" text-anchor="middle">Recurrence-free survival (%)</text>
<path d="M1595.50 978.30 H1629.50" stroke="#e02a00" stroke-width="3.2"/>
<text x="1632.70" y="985.30" font-size="19.5" text-anchor="start" fill="#000">Non adjuvant chemotherapy (n=41)</text>
<path d="M1595.50 998.50 H1629.50" stroke="#0058c8" stroke-width="3.2"/>
<text x="1632.70" y="1005.50" font-size="19.5" text-anchor="start" fill="#000">Adjuvant chemotherapy (n=34)</text>
<text x="1789.90" y="1083.90" font-size="26.0"><tspan font-style="italic">p</tspan>=0.702</text>
<rect x="686.90" y="106.30" width="65.40" height="147.10" fill="#ffc9c9" stroke="#000" stroke-width="3"/>
<rect x="686.90" y="253.40" width="65.40" height="60.40" fill="#a9ffa9" stroke="#000" stroke-width="3"/>
<rect x="825.30" y="106.30" width="65.10" height="80.60" fill="#ffc9c9" stroke="#000" stroke-width="3"/>
<rect x="825.30" y="186.90" width="65.10" height="126.90" fill="#a9ffa9" stroke="#000" stroke-width="3"/>
<path d="M648.60 63.60 V313.80 H930.60" fill="none" stroke="#000" stroke-width="3.2" stroke-linejoin="miter"/>
<path d="M648.60 274.20 h4.6M648.60 232.40 h4.6M648.60 190.60 h4.6M648.60 148.80 h4.6M648.60 107.00 h4.6M648.60 65.20 h4.6M789.00 313.80 v-5.2M928.40 313.80 v-5.2" fill="none" stroke="#000" stroke-width="3"/>
<text x="638.60" y="323.10" font-size="26.0" text-anchor="end" fill="#000">0</text>
<text x="638.60" y="283.50" font-size="26.0" text-anchor="end" fill="#000">20</text>
<text x="638.60" y="241.40" font-size="26.0" text-anchor="end" fill="#000">40</text>
<text x="638.60" y="199.30" font-size="26.0" text-anchor="end" fill="#000">60</text>
<text x="638.60" y="157.20" font-size="26.0" text-anchor="end" fill="#000">80</text>
<text x="638.60" y="115.10" font-size="26.0" text-anchor="end" fill="#000">100</text>
<text x="638.60" y="73.00" font-size="26.0" text-anchor="end" fill="#000">120</text>
<text x="566.30" y="18.90" font-size="26.0" text-anchor="start" fill="#000">B</text>
<text x="785.00" y="18.60" font-size="26.0" text-anchor="middle" fill="#000">NMIBC</text>
<rect x="672.40" y="26.60" width="16.30" height="16.40" fill="#ffc9c9" stroke="#000" stroke-width="3"/>
<text x="696.90" y="42.70" font-size="22.6" text-anchor="start" fill="#000">Recurrent</text>
<rect x="672.40" y="47.80" width="16.30" height="16.30" fill="#a9ffa9" stroke="#000" stroke-width="3"/>
<text x="696.90" y="63.70" font-size="22.6" text-anchor="start" fill="#000">Non-Recurrent</text>
<text x="786.00" y="95.20" font-size="26.0" text-anchor="middle" fill="#000">p=0.0004</text>
<text x="719.60" y="185.70" font-size="23" text-anchor="middle" fill="#000">n=50</text>
<text x="719.60" y="288.70" font-size="23" text-anchor="middle" fill="#000">n=22</text>
<text x="857.70" y="153.70" font-size="23" text-anchor="middle" fill="#000">n=23</text>
<text x="857.70" y="256.70" font-size="23" text-anchor="middle" fill="#000">n=36</text>
<text transform="translate(589.50 187.00) rotate(-90)" font-size="26.0" text-anchor="middle">% of Specimens</text>
<text x="677.20" y="340.00" font-size="26.0" text-anchor="start" fill="#000">Nkx2.8</text>
<text x="677.40" y="361.00" font-size="26.0" text-anchor="start" fill="#000">negtive</text>
<text x="815.40" y="340.00" font-size="26.0" text-anchor="start" fill="#000">Nkx2.8</text>
<text x="815.60" y="361.00" font-size="26.0" text-anchor="start" fill="#000">positive</text>
<rect x="1144.70" y="106.30" width="64.40" height="102.20" fill="#ffc9c9" stroke="#000" stroke-width="3"/>
<rect x="1144.70" y="208.50" width="64.40" height="105.30" fill="#a9ffa9" stroke="#000" stroke-width="3"/>
<rect x="1282.90" y="106.30" width="64.70" height="40.40" fill="#ffc9c9" stroke="#000" stroke-width="3"/>
<rect x="1282.90" y="146.70" width="64.70" height="167.10" fill="#a9ffa9" stroke="#000" stroke-width="3"/>
<path d="M1106.10 63.60 V313.80 H1387.50" fill="none" stroke="#000" stroke-width="3.2" stroke-linejoin="miter"/>
<path d="M1106.10 274.20 h4.6M1106.10 232.40 h4.6M1106.10 190.60 h4.6M1106.10 148.80 h4.6M1106.10 107.00 h4.6M1106.10 65.20 h4.6M1246.50 313.80 v-5.2M1385.60 313.80 v-5.2" fill="none" stroke="#000" stroke-width="3"/>
<text x="1096.00" y="323.10" font-size="26.0" text-anchor="end" fill="#000">0</text>
<text x="1096.00" y="283.50" font-size="26.0" text-anchor="end" fill="#000">20</text>
<text x="1096.00" y="241.40" font-size="26.0" text-anchor="end" fill="#000">40</text>
<text x="1096.00" y="199.30" font-size="26.0" text-anchor="end" fill="#000">60</text>
<text x="1096.00" y="157.20" font-size="26.0" text-anchor="end" fill="#000">80</text>
<text x="1096.00" y="115.10" font-size="26.0" text-anchor="end" fill="#000">100</text>
<text x="1096.00" y="73.00" font-size="26.0" text-anchor="end" fill="#000">120</text>
<text x="1023.80" y="18.90" font-size="26.0" text-anchor="start" fill="#000">C</text>
<text x="1244.00" y="18.60" font-size="26.0" text-anchor="middle" fill="#000">NMIBC</text>
<rect x="1129.80" y="26.60" width="16.50" height="16.40" fill="#ffc9c9" stroke="#000" stroke-width="3"/>
<text x="1154.40" y="42.70" font-size="22.6" text-anchor="start" fill="#000">Progress</text>
<rect x="1129.80" y="47.80" width="16.50" height="16.30" fill="#a9ffa9" stroke="#000" stroke-width="3"/>
<text x="1154.40" y="63.70" font-size="22.6" text-anchor="start" fill="#000">Non-Progress</text>
<text x="1244.10" y="95.20" font-size="26.0" text-anchor="middle" fill="#000">p=0.0003</text>
<text x="1177.40" y="165.50" font-size="23" text-anchor="middle" fill="#000">n=35</text>
<text x="1177.40" y="268.50" font-size="23" text-anchor="middle" fill="#000">n=37</text>
<text x="1315.00" y="134.10" font-size="23" text-anchor="middle" fill="#000">n=11</text>
<text x="1315.00" y="237.70" font-size="23" text-anchor="middle" fill="#000">n=48</text>
<text transform="translate(1047.70 187.00) rotate(-90)" font-size="26.0" text-anchor="middle">% of Specimens</text>
<text x="1134.70" y="340.00" font-size="26.0" text-anchor="start" fill="#000">Nkx2.8</text>
<text x="1134.90" y="361.00" font-size="26.0" text-anchor="start" fill="#000">negtive</text>
<text x="1274.50" y="340.00" font-size="26.0" text-anchor="start" fill="#000">Nkx2.8</text>
<text x="1274.70" y="361.00" font-size="26.0" text-anchor="start" fill="#000">positive</text>
<rect x="668.70" y="573.50" width="65.30" height="116.60" fill="#ffc9c9" stroke="#000" stroke-width="3"/>
<rect x="668.70" y="690.10" width="65.30" height="91.40" fill="#a9ffa9" stroke="#000" stroke-width="3"/>
<rect x="807.10" y="573.50" width="65.40" height="70.40" fill="#ffc9c9" stroke="#000" stroke-width="3"/>
<rect x="807.10" y="643.90" width="65.40" height="137.60" fill="#a9ffa9" stroke="#000" stroke-width="3"/>
<path d="M629.50 531.90 V781.50 H910.30" fill="none" stroke="#000" stroke-width="3.2" stroke-linejoin="miter"/>
<path d="M629.50 741.00 h4.6M629.50 699.50 h4.6M629.50 658.00 h4.6M629.50 616.50 h4.6M629.50 575.00 h4.6M629.50 533.50 h4.6M769.60 781.50 v-5.2M908.00 781.50 v-5.2" fill="none" stroke="#000" stroke-width="3"/>
<text x="618.70" y="790.00" font-size="26.0" text-anchor="end" fill="#000">0</text>
<text x="618.70" y="750.30" font-size="26.0" text-anchor="end" fill="#000">20</text>
<text x="618.70" y="708.50" font-size="26.0" text-anchor="end" fill="#000">40</text>
<text x="618.70" y="666.70" font-size="26.0" text-anchor="end" fill="#000">60</text>
<text x="618.70" y="624.90" font-size="26.0" text-anchor="end" fill="#000">80</text>
<text x="618.70" y="583.10" font-size="26.0" text-anchor="end" fill="#000">100</text>
<text x="618.70" y="541.30" font-size="26.0" text-anchor="end" fill="#000">120</text>
<text x="547.00" y="473.20" font-size="26.0" text-anchor="start" fill="#000">F</text>
<text x="735.00" y="488.60" font-size="26.0" text-anchor="middle" fill="#000">MIBC</text>
<rect x="653.00" y="503.00" width="16.70" height="15.60" fill="#ffc9c9" stroke="#000" stroke-width="3"/>
<text x="678.10" y="519.00" font-size="22.6" text-anchor="start" fill="#000">Recurrent</text>
<rect x="653.00" y="525.00" width="16.70" height="16.00" fill="#a9ffa9" stroke="#000" stroke-width="3"/>
<text x="678.10" y="541.40" font-size="22.6" text-anchor="start" fill="#000">Non-Recurrent</text>
<text x="770.20" y="564.60" font-size="26.0" text-anchor="middle" fill="#000">p=0.03</text>
<text x="700.30" y="639.50" font-size="23" text-anchor="middle" fill="#000">n=40</text>
<text x="700.30" y="743.30" font-size="23" text-anchor="middle" fill="#000">n=35</text>
<text x="838.80" y="617.10" font-size="23" text-anchor="middle" fill="#000">n=13</text>
<text x="838.80" y="720.90" font-size="23" text-anchor="middle" fill="#000">n=27</text>
<text transform="translate(569.90 659.20) rotate(-90)" font-size="26.0" text-anchor="middle">% of Specimens</text>
<text x="666.70" y="804.10" font-size="23" text-anchor="start" fill="#000">Nkx2.8</text>
<text x="666.90" y="826.20" font-size="23" text-anchor="start" fill="#000">negtive</text>
<text x="805.60" y="804.10" font-size="23" text-anchor="start" fill="#000">Nkx2.8</text>
<text x="805.80" y="826.20" font-size="23" text-anchor="start" fill="#000">positive</text>
</svg>
</body></html>
